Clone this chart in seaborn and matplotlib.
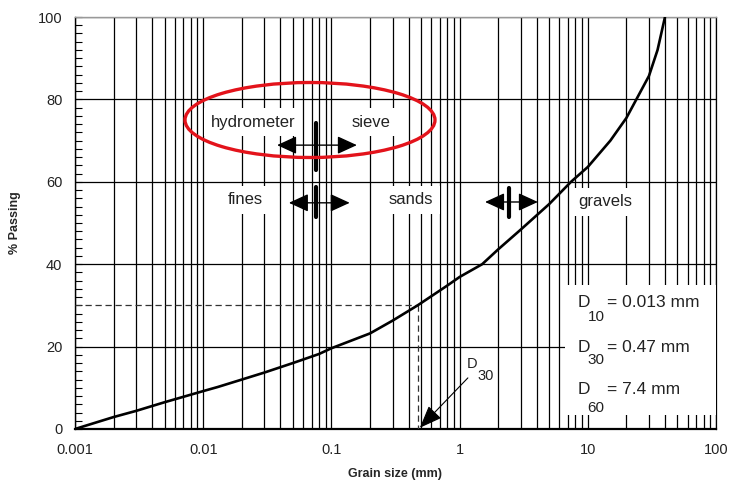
import matplotlib
matplotlib.use("Agg")
import matplotlib.pyplot as plt
import seaborn as sns
import numpy as np
import pandas as pd
from matplotlib.ticker import LogLocator, NullFormatter, MultipleLocator
from matplotlib.patches import Ellipse, Rectangle

# ---- data ----
size_mm = [0.001, 0.002, 0.003, 0.005, 0.01, 0.013, 0.02, 0.03, 0.05, 0.08, 0.1,
           0.2, 0.3, 0.47, 0.6, 0.8, 1.0, 1.5, 2.0, 3.0, 5.0, 7.4, 10, 15, 20, 30, 35, 40]
passing = [0, 2.9, 4.4, 6.5, 9.2, 10.2, 12.0, 13.7, 16.0, 18.2, 19.6,
           23.2, 26.3, 30.0, 32.2, 34.8, 36.9, 40.0, 43.6, 48.4, 54.6, 60.0, 63.6, 70.0, 75.5, 85.7, 92.0, 100]
xtick_vals = [0.001, 0.01, 0.1, 1, 10, 100]
xtick_labels = ["0.001", "0.01", "0.1", "1", "10", "100"]
ytick_vals = [0, 20, 40, 60, 80, 100]
d_labels = ["10", "30", "60"]
d_values = ["= 0.013 mm", "= 0.47 mm", "= 7.4 mm"]
d30 = 0.47

sns.set_style("white")
plt.rcParams['font.family'] = ['Liberation Sans', 'DejaVu Sans']

df = pd.DataFrame({"size": size_mm, "passing": passing})

fig = plt.figure(figsize=(7.29, 4.9), dpi=100)
ax = fig.add_axes([75/729, 1-429/490, 641/729, 412/490])

sns.lineplot(data=df, x="size", y="passing", ax=ax, color="black", lw=1.9,
             sort=False, zorder=4)

ax.set_xscale("log")
ax.set_xlim(0.001, 100)
ax.set_ylim(0, 100)

ax.set_xticks(xtick_vals, labels=xtick_labels)
ax.xaxis.set_minor_locator(LogLocator(base=10, subs=range(2, 10), numticks=20))
ax.xaxis.set_minor_formatter(NullFormatter())
ax.set_yticks(ytick_vals)
ax.yaxis.set_minor_locator(MultipleLocator(2))

ax.tick_params(axis='x', which='both', length=0, labelsize=10.5, pad=10, colors='#222222')
ax.tick_params(axis='y', which='major', direction='in', length=5, width=0.8, left=True,
               labelsize=10.5, pad=9, colors='#222222')
ax.tick_params(axis='y', which='minor', direction='in', length=5, width=0.8, left=True)
ax.tick_params(axis='y', which='both', color='black')

ax.set_axisbelow(True)
ax.grid(False)
ax.grid(True, axis='x', which='both', color='black', lw=0.9)
ax.grid(True, axis='y', which='major', color='black', lw=0.9)

for s in ['left', 'bottom', 'right']:
    ax.spines[s].set_color('black')
ax.spines['left'].set_linewidth(1.0)
ax.spines['bottom'].set_linewidth(1.6)
ax.spines['right'].set_linewidth(0.9)
ax.spines['top'].set_color('#999999')
ax.spines['top'].set_linewidth(1.0)

ax.set_xlabel("Grain size (mm)", fontsize=9, fontweight='bold', labelpad=8)
ax.set_ylabel("% Passing", fontsize=9, fontweight='bold', labelpad=12)

# dashed D30 construction
ax.plot([0.001, d30], [30, 30], color='#333333', lw=0.9, dashes=(5, 3), zorder=3)
ax.plot([d30, d30], [30, 0], color='#333333', lw=0.9, dashes=(5, 3), zorder=3)

# labelled zones with white boxes
box = dict(facecolor='white', edgecolor='none', boxstyle='square,pad=0.4')
fs = 12
ax.text(0.0244, 74.5, "hydrometer", ha='center', va='center', fontsize=fs, color='#222222', bbox=box, zorder=3)
ax.text(0.204, 74.5, "sieve", ha='center', va='center', fontsize=fs, color='#222222', bbox=box, zorder=3)
ax.text(0.0212, 55.6, "fines", ha='center', va='center', fontsize=fs, color='#222222', bbox=box, zorder=3)
ax.text(0.417, 55.6, "sands", ha='center', va='center', fontsize=fs, color='#222222', bbox=box, zorder=3)
ax.text(13.6, 55.1, "gravels", ha='center', va='center', fontsize=fs, color='#222222', bbox=box, zorder=3)

# double arrows with bars
arrow_style = '<|-|>,head_length=1.2,head_width=0.55'
for (xl, xr, y, xb, yb0, yb1) in [(0.0377, 0.158, 68.9, 0.0758, 62.9, 74.3),
                                  (0.0466, 0.139, 54.9, 0.0758, 51.5, 58.7),
                                  (1.58, 4.08, 55.1, 2.43, 51.5, 58.5)]:
    ax.annotate('', xy=(xr, y), xytext=(xl, y),
                arrowprops=dict(arrowstyle=arrow_style, color='black', lw=1.0,
                                shrinkA=0, shrinkB=0), zorder=5)
    ax.plot([xb, xb], [yb0, yb1], color='black', lw=3, solid_capstyle='round', zorder=5)

# red ellipse
ell = Ellipse((0.3666, 0.75), 0.39, 0.182, transform=ax.transAxes, fill=False,
              edgecolor='#e3131b', lw=2.4, zorder=6, clip_on=False)
ax.add_patch(ell)

# right white panel with D values
ax.add_patch(Rectangle((6.6, 3.4), 100 - 6.6, 35.0 - 3.4, facecolor='white',
                       edgecolor='none', zorder=3))
for lab, val, yd, ys in zip(d_labels, d_values, [30.8, 19.9, 9.5], [27.2, 16.7, 5.1]):
    ax.text(9.33, yd, "D", ha='center', va='center', fontsize=12.5, color='#222222', zorder=4)
    ax.text(11.6, ys, lab, ha='center', va='center', fontsize=11, color='#222222', zorder=4)
    ax.text(14.1, yd, val, ha='left', va='center', fontsize=12.5, color='#222222', zorder=4)

# D30 pointer
ax.annotate('', xy=(0.49, 0.3), xytext=(1.16, 12.4),
            arrowprops=dict(arrowstyle='-|>,head_length=1.4,head_width=0.55', color='black',
                            lw=0.8, shrinkA=0, shrinkB=0), zorder=5, annotation_clip=False)
ax.text(1.25, 15.8, "D", ha='center', va='center', fontsize=10.5, color='#222222', zorder=5)
ax.text(1.60, 12.9, "30", ha='center', va='center', fontsize=10.5, color='#222222', zorder=5)

fig.savefig("out.png", dpi=100)
